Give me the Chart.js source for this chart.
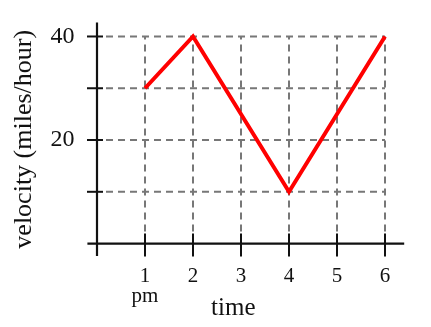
<!DOCTYPE html>
<html>
<head>
<meta charset="utf-8">
<script src="https://cdn.jsdelivr.net/npm/chart.js@4"></script>
<style>
html,body{margin:0;padding:0;background:#fff;}
#wrap{width:431px;height:327px;position:relative;}
</style>
</head>
<body>
<div id="wrap"><canvas id="c" width="431" height="327"></canvas></div>
<script>
// Data
const timeValues = [1, 2, 4, 6];
const velocityValues = [30, 40, 10, 40];
const xTickValues = [1, 2, 3, 4, 5, 6];
const xTickLabels = [['1', 'pm'], '2', '3', '4', '5', '6'];
const yTickValues = [20, 40];
const yTickLabels = ['20', '40'];
const gridXValues = [1, 2, 3, 4, 5, 6];
const gridYValues = [10, 20, 30, 40];
const xTitle = 'time';
const yTitle = 'velocity (miles/hour)';

const SERIF = '"Liberation Serif", "Times New Roman", serif';

const axesPlugin = {
  id: 'axesGrid',
  beforeDatasetsDraw(chart) {
    const { ctx, chartArea, scales: { x, y } } = chart;
    const x0 = x.getPixelForValue(0), y0 = y.getPixelForValue(0);
    const xEnd = x.getPixelForValue(Math.max(...gridXValues));
    const yTop = y.getPixelForValue(Math.max(...gridYValues));
    ctx.save();
    // dashed grid
    ctx.strokeStyle = '#777';
    ctx.lineWidth = 2;
    ctx.setLineDash([7, 5]);
    gridYValues.forEach(v => {
      const py = y.getPixelForValue(v);
      ctx.beginPath(); ctx.moveTo(x0 + 9, py); ctx.lineTo(xEnd, py); ctx.stroke();
    });
    gridXValues.forEach(v => {
      const px = x.getPixelForValue(v);
      ctx.beginPath(); ctx.moveTo(px, y0 - 12); ctx.lineTo(px, yTop); ctx.stroke();
    });
    // axes
    ctx.setLineDash([]);
    ctx.strokeStyle = '#111';
    ctx.lineWidth = 2.2;
    ctx.beginPath();
    ctx.moveTo(chartArea.left, y0); ctx.lineTo(chartArea.right, y0);
    ctx.moveTo(x0, chartArea.top); ctx.lineTo(x0, chartArea.bottom);
    ctx.stroke();
    // cross ticks
    ctx.lineWidth = 2;
    gridYValues.forEach(v => {
      const py = y.getPixelForValue(v);
      ctx.beginPath(); ctx.moveTo(x0 - 10, py); ctx.lineTo(x0 + 6, py); ctx.stroke();
    });
    gridXValues.forEach(v => {
      const px = x.getPixelForValue(v);
      ctx.beginPath(); ctx.moveTo(px, y0 - 10); ctx.lineTo(px, y0 + 13); ctx.stroke();
    });
    // x axis title
    ctx.fillStyle = '#111';
    ctx.font = '25px ' + SERIF;
    ctx.textAlign = 'center';
    ctx.textBaseline = 'alphabetic';
    ctx.fillText(xTitle, x.getPixelForValue(2.84), 315);
    ctx.restore();
  }
};

new Chart(document.getElementById('c'), {
  type: 'line',
  data: {
    datasets: [{
      data: timeValues.map((t, i) => ({ x: t, y: velocityValues[i] })),
      borderColor: '#ff0000',
      borderWidth: 4,
      pointRadius: 0,
      tension: 0,
      fill: false
    }]
  },
  options: {
    responsive: false,
    animation: false,
    devicePixelRatio: 1,
    layout: { padding: { left: 0, right: 26.8, top: 22.5, bottom: 0 } },
    plugins: { legend: { display: false }, tooltip: { enabled: false } },
    scales: {
      x: {
        type: 'linear',
        min: -0.2,
        max: 6.4,
        grid: { display: false, drawTicks: false },
        border: { display: false },
        afterBuildTicks: s => { s.ticks = xTickValues.map(v => ({ value: v })); },
        afterFit: s => { s.height = 71; s.paddingLeft = 0; s.paddingRight = 0; },
        ticks: {
          autoSkip: false,
          maxRotation: 0,
          padding: 11,
          color: '#111',
          font: { family: SERIF, size: 21, lineHeight: 0.95 },
          callback: v => xTickLabels[xTickValues.indexOf(v)]
        }
      },
      y: {
        type: 'linear',
        min: -2.4,
        max: 42.7,
        grid: { display: false, drawTicks: false },
        border: { display: false },
        afterBuildTicks: s => { s.ticks = yTickValues.map(v => ({ value: v })); },
        afterFit: s => { s.width = 87.4; s.paddingTop = 0; s.paddingBottom = 0; },
        ticks: {
          padding: 13,
          color: '#111',
          font: { family: SERIF, size: 24 },
          callback: v => yTickLabels[yTickValues.indexOf(v)]
        },
        title: {
          display: true,
          text: yTitle,
          color: '#111',
          font: { family: SERIF, size: 26 },
          padding: { top: 9, bottom: 0 }
        }
      }
    }
  },
  plugins: [axesPlugin]
});
</script>
</body>
</html>
